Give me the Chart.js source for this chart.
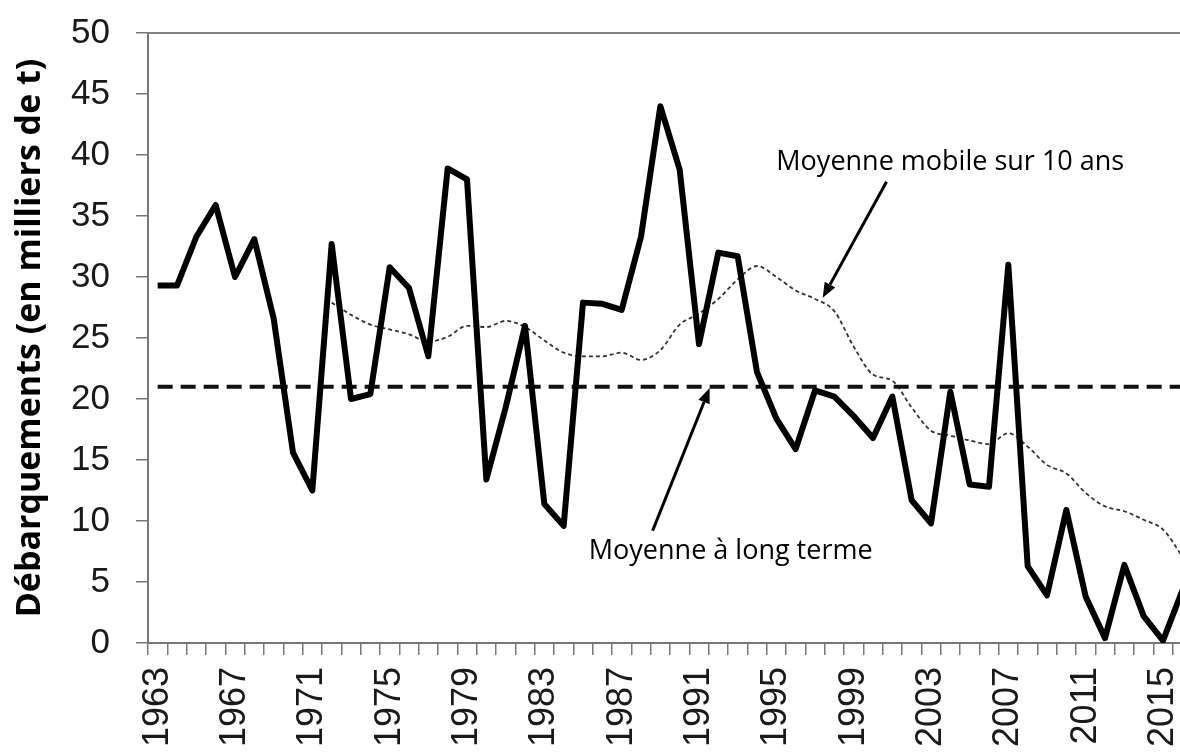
<!DOCTYPE html>
<html lang="fr">
<head>
<meta charset="utf-8">
<title>Débarquements</title>
<script src="https://cdn.jsdelivr.net/npm/chart.js@4.4.1/dist/chart.umd.min.js"></script>
<style>
    html, body { margin: 0; padding: 0; background: #fff; overflow: hidden; }
    #wrap { width: 1200px; height: 756px; }
</style>
</head>
<body>
<div id="wrap"><canvas id="chart" width="1200" height="756"></canvas></div>
<script>
// Years on the category axis
const years = [
    '1963', '1964', '1965', '1966', '1967', '1968', '1969', '1970', '1971', '1972',
    '1973', '1974', '1975', '1976', '1977', '1978', '1979', '1980', '1981', '1982',
    '1983', '1984', '1985', '1986', '1987', '1988', '1989', '1990', '1991', '1992',
    '1993', '1994', '1995', '1996', '1997', '1998', '1999', '2000', '2001', '2002',
    '2003', '2004', '2005', '2006', '2007', '2008', '2009', '2010', '2011', '2012',
    '2013', '2014', '2015', '2016'
];

// Landings, thousands of tonnes
const debarquements = [
    29.3, 29.3, 33.3, 35.9, 30.0, 33.1, 26.6, 15.6, 12.5, 32.7,
    20.0, 20.4, 30.8, 29.1, 23.5, 38.9, 38.0, 13.4, 19.3, 26.0,
    11.4, 9.6, 27.9, 27.8, 27.3, 33.3, 44.0, 38.8, 24.5, 32.0,
    31.7, 22.2, 18.4, 15.9, 20.7, 20.2, 18.6, 16.8, 20.2, 11.7,
    9.8, 20.6, 13.0, 12.8, 31.0, 6.3, 3.9, 10.9, 3.8, 0.4,
    6.4, 2.2, 0.2, 4.3
];

// 10-year moving average (starts in 1972)
const moyenneMobile = [
    null, null, null, null, null, null, null, null, null, 27.9,
    26.9, 26.1, 25.7, 25.3, 24.7, 25.1, 26.0, 25.9, 26.4, 25.9,
    24.8, 23.8, 23.5, 23.5, 23.8, 23.2, 24.0, 26.1, 27.0, 28.2,
    29.8, 30.9, 30.0, 28.9, 28.2, 27.2, 24.3, 22.0, 21.5, 19.3,
    17.4, 17.0, 16.6, 16.3, 17.2, 16.1, 14.6, 13.9, 12.3, 11.2,
    10.8, 10.1, 9.3, 7.1
];

// Long-term mean
const moyenneLongTerme = 21;

// Axis ticks
const yMin = 0;
const yMax = 50;
const yStep = 5;
const labelEvery = 4;

// Callouts, placed in data units (category index, value)
const notes = [
    { text: 'Moyenne mobile sur 10 ans', textAt: [32.0, 38.8], from: [37.7, 37.8], to: [34.4, 28.3] },
    { text: 'Moyenne à long terme', textAt: [22.3, 6.9], from: [25.6, 9.2], to: [28.55, 20.9] }
];

function drawArrow(ctx, x1, y1, x2, y2) {
    const angle = Math.atan2(y2 - y1, x2 - x1);
    const head = 15;
    const half = 6;
    const bx = x2 - head * Math.cos(angle);
    const by = y2 - head * Math.sin(angle);
    ctx.beginPath();
    ctx.moveTo(x1, y1);
    ctx.lineTo(bx, by);
    ctx.lineWidth = 3;
    ctx.stroke();
    ctx.beginPath();
    ctx.moveTo(x2, y2);
    ctx.lineTo(bx + half * Math.sin(angle), by - half * Math.cos(angle));
    ctx.lineTo(bx - half * Math.sin(angle), by + half * Math.cos(angle));
    ctx.closePath();
    ctx.fill();
}

// Top border of the plot area + callouts
const decorations = {
    id: 'decorations',
    afterDraw(chart) {
        const { ctx, chartArea, scales: { x, y } } = chart;
        ctx.save();
        ctx.strokeStyle = '#808080';
        ctx.lineWidth = 2;
        ctx.beginPath();
        ctx.moveTo(chartArea.left, chartArea.top);
        ctx.lineTo(chartArea.right, chartArea.top);
        ctx.stroke();

        ctx.fillStyle = '#000';
        ctx.strokeStyle = '#000';
        ctx.font = '27px "Open Sans"';
        ctx.textAlign = 'left';
        ctx.textBaseline = 'alphabetic';
        notes.forEach(n => {
            ctx.fillText(n.text, x.getPixelForValue(n.textAt[0]), y.getPixelForValue(n.textAt[1]));
            drawArrow(ctx,
                x.getPixelForValue(n.from[0]), y.getPixelForValue(n.from[1]),
                x.getPixelForValue(n.to[0]), y.getPixelForValue(n.to[1]));
        });
        ctx.restore();
    }
};

const ctx = document.getElementById('chart').getContext('2d');
new Chart(ctx, {
    type: 'line',
    data: {
        labels: years,
        datasets: [
            {
                label: 'Débarquements',
                data: debarquements,
                borderColor: '#000',
                borderWidth: 6,
                borderJoinStyle: 'round',
                pointRadius: 0,
                tension: 0
            },
            {
                label: 'Moyenne à long terme',
                data: [
                    { x: years[0], y: moyenneLongTerme },
                    { x: years[years.length - 1], y: moyenneLongTerme }
                ],
                borderColor: '#111',
                borderWidth: 4,
                borderDash: [15, 8],
                pointRadius: 0
            },
            {
                label: 'Moyenne mobile sur 10 ans',
                data: moyenneMobile,
                borderColor: '#333',
                borderWidth: 1.8,
                borderDash: [4, 3],
                pointRadius: 0,
                cubicInterpolationMode: 'monotone'
            }
        ]
    },
    options: {
        responsive: false,
        animation: false,
        devicePixelRatio: 1,
        layout: {
            padding: { top: 33, right: 8, left: 0, bottom: 0 }
        },
        plugins: {
            legend: { display: false },
            tooltip: { enabled: false }
        },
        scales: {
            x: {
                type: 'category',
                offset: true,
                grid: {
                    offset: true,
                    drawOnChartArea: false,
                    tickLength: 12,
                    color: '#777',
                    lineWidth: 1.5
                },
                border: { color: '#777', width: 2 },
                ticks: {
                    autoSkip: false,
                    minRotation: 90,
                    maxRotation: 90,
                    padding: 12,
                    color: '#1a1a1a',
                    font: { family: '"Liberation Sans", Arial', size: 36 },
                    callback: (val, idx) => idx % labelEvery === 0 ? years[idx] : ''
                },
                afterFit: s => {
                    s.height = 113;
                    s.paddingLeft = 0;
                    s.paddingRight = 0;
                }
            },
            y: {
                min: yMin,
                max: yMax,
                grid: {
                    drawOnChartArea: false,
                    tickLength: 12,
                    color: '#777',
                    lineWidth: 1.5
                },
                border: { color: '#777', width: 2 },
                ticks: {
                    stepSize: yStep,
                    padding: 26,
                    color: '#1a1a1a',
                    font: { family: '"Liberation Sans", Arial', size: 35 }
                },
                title: {
                    display: true,
                    text: 'Débarquements (en milliers de t)',
                    color: '#000',
                    font: { family: '"Open Sans"', size: 34, weight: 'bold' },
                    padding: { top: 10, bottom: 0 }
                },
                afterFit: s => {
                    s.width = 148;
                    s.paddingTop = 0;
                    s.paddingBottom = 0;
                }
            }
        }
    },
    plugins: [decorations]
});
</script>
</body>
</html>
